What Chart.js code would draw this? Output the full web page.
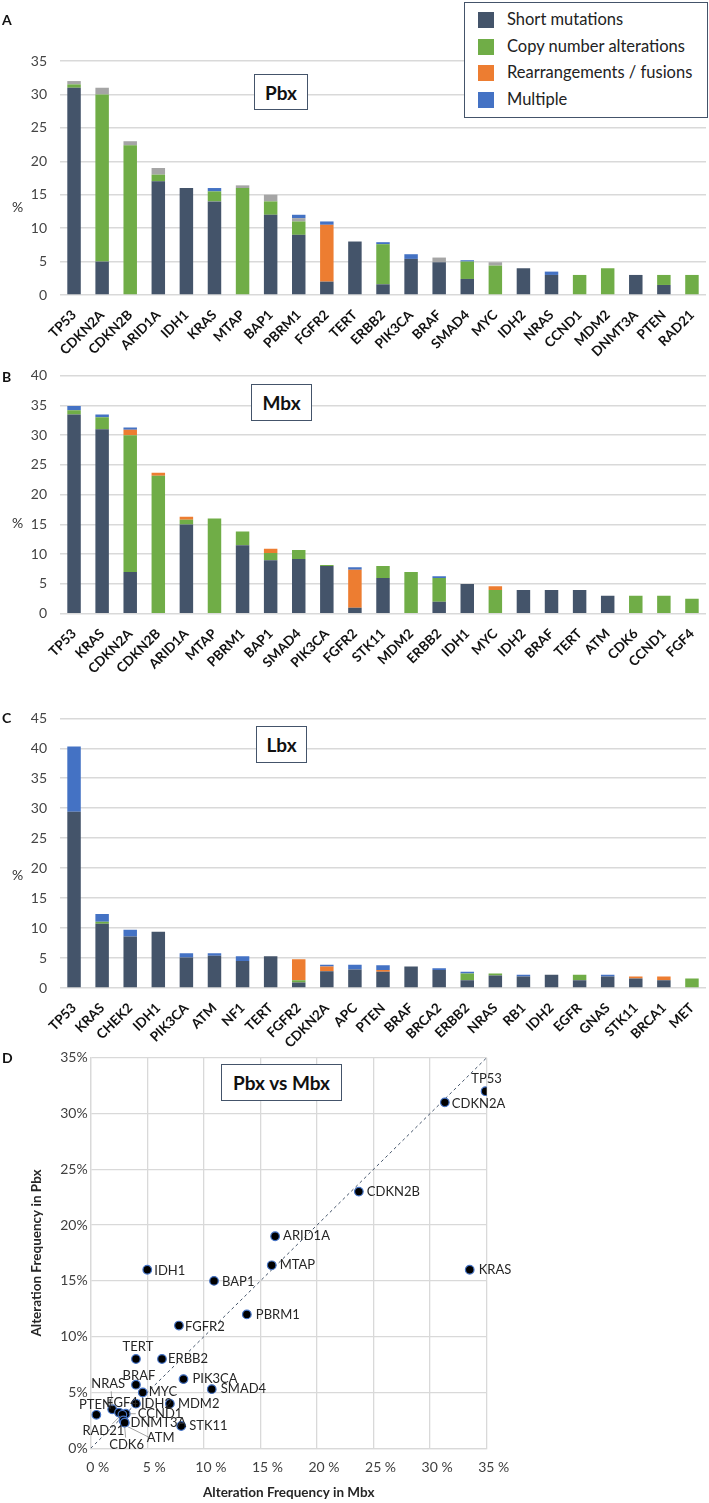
<!DOCTYPE html>
<html>
<head>
<meta charset="utf-8">
<script src="https://cdn.jsdelivr.net/npm/chart.js@4.4.1/dist/chart.umd.min.js"></script>
<style>
  body { margin: 0; background: #fff; font-family: Lato, sans-serif; }
  #page { position: relative; width: 709px; height: 1503px; overflow: hidden; }
  canvas { position: absolute; left: 0; }
  .txt { position: absolute; line-height: 1; white-space: nowrap; color: #111; }
  .box { position: absolute; box-sizing: border-box; border: 1.5px solid #44546a; background: #fff;
         display: flex; align-items: center; justify-content: center; font-weight: bold; font-size: 19px; color: #111; }
  .sw { position: absolute; width: 16px; height: 16px; }
</style>
</head>
<body>
<div id="page">
  <canvas id="chartA" width="709" height="365" style="top:0px"></canvas>
  <canvas id="chartB" width="709" height="345" style="top:340px"></canvas>
  <canvas id="chartC" width="709" height="400" style="top:670px"></canvas>
  <canvas id="chartD" width="709" height="458" style="top:1045px"></canvas>

  <div class="txt" style="left:2px;top:13px;font-weight:bold;font-size:14px">A</div>
  <div class="txt" style="left:2px;top:370px;font-weight:bold;font-size:14px">B</div>
  <div class="txt" style="left:2px;top:711px;font-weight:bold;font-size:14px">C</div>
  <div class="txt" style="left:2px;top:1051px;font-weight:bold;font-size:14px">D</div>

  <div class="txt" style="left:12px;top:200px;font-size:14px;color:#333">%</div>
  <div class="txt" style="left:12px;top:516px;font-size:14px;color:#333">%</div>
  <div class="txt" style="left:12px;top:868px;font-size:14px;color:#333">%</div>

  <div class="box" style="left:254px;top:74px;width:54px;height:36px">Pbx</div>
  <div class="box" style="left:251px;top:384px;width:61px;height:37px">Mbx</div>
  <div class="box" style="left:256px;top:726px;width:51px;height:37px">Lbx</div>
  <div class="box" style="left:221px;top:1064px;width:121px;height:37px">Pbx vs Mbx</div>

  <div id="legend"></div>
</div>

<script>
// Series shared by the three bar panels
const seriesNames = ['Short mutations', 'Copy number alterations', 'Rearrangements / fusions', 'Multiple'];
const seriesColors = ['#44546a', '#70ad47', '#ed7d31', '#4472c4'];
const otherColor = '#a5a5a5'; // unlabelled grey cap in Pbx

// Panel A - Pbx
const genesA = ['TP53', 'CDKN2A', 'CDKN2B', 'ARID1A', 'IDH1', 'KRAS', 'MTAP', 'BAP1', 'PBRM1', 'FGFR2', 'TERT',
  'ERBB2', 'PIK3CA', 'BRAF', 'SMAD4', 'MYC', 'IDH2', 'NRAS', 'CCND1', 'MDM2', 'DNMT3A', 'PTEN', 'RAD21'];
const shortA = [31, 5, 0, 17, 16, 14, 0, 12, 9, 2, 8, 1.6, 5.4, 4.9, 2.4, 0, 4, 3, 0, 0, 3, 1.5, 0];
const cnaA = [0.5, 25, 22.4, 1, 0, 1.5, 16, 2, 2, 0, 0, 6, 0, 0, 2.6, 4.4, 0, 0, 3, 4, 0, 1.5, 3];
const rearrA = [0, 0, 0, 0, 0, 0, 0, 0, 0, 8.5, 0, 0, 0, 0, 0, 0, 0, 0, 0, 0, 0, 0, 0];
const otherA = [0.5, 1, 0.6, 1, 0, 0, 0.4, 1, 0.5, 0, 0, 0, 0, 0.7, 0, 0.5, 0, 0, 0, 0, 0, 0, 0];
const multiA = [0, 0, 0, 0, 0, 0.5, 0, 0, 0.5, 0.5, 0, 0.3, 0.7, 0, 0.2, 0, 0, 0.5, 0, 0, 0, 0, 0];

// Panel B - Mbx
const genesB = ['TP53', 'KRAS', 'CDKN2A', 'CDKN2B', 'ARID1A', 'MTAP', 'PBRM1', 'BAP1', 'SMAD4', 'PIK3CA', 'FGFR2',
  'STK11', 'MDM2', 'ERBB2', 'IDH1', 'MYC', 'IDH2', 'BRAF', 'TERT', 'ATM', 'CDK6', 'CCND1', 'FGF4'];
const shortB = [33.5, 31, 7, 0, 15, 0, 11.5, 9, 9.2, 8, 1, 6, 0, 2, 5, 0, 4, 4, 4, 3, 0, 0, 0];
const cnaB = [0.7, 2, 23, 23.2, 0.8, 16, 2.3, 1.2, 1.5, 0.2, 0, 2, 7, 4, 0, 4, 0, 0, 0, 0, 3, 3, 2.5];
const rearrB = [0, 0, 0.9, 0.5, 0.5, 0, 0, 0.7, 0, 0, 6.4, 0, 0, 0, 0, 0.6, 0, 0, 0, 0, 0, 0, 0];
const multiB = [0.7, 0.5, 0.4, 0, 0, 0, 0, 0, 0, 0, 0.4, 0, 0, 0.3, 0, 0, 0, 0, 0, 0, 0, 0, 0];

// Panel C - Lbx
const genesC = ['TP53', 'KRAS', 'CHEK2', 'IDH1', 'PIK3CA', 'ATM', 'NF1', 'TERT', 'FGFR2', 'CDKN2A', 'APC', 'PTEN',
  'BRAF', 'BRCA2', 'ERBB2', 'NRAS', 'RB1', 'IDH2', 'EGFR', 'GNAS', 'STK11', 'BRCA1', 'MET'];
const shortC = [29.4, 10.7, 8.6, 9.4, 5.1, 5.4, 4.5, 5.3, 0.9, 2.8, 3.1, 2.7, 3.6, 3.0, 1.3, 2.1, 1.9, 2.2, 1.3, 1.9, 1.6, 1.3, 0];
const cnaC = [0, 0.35, 0, 0, 0, 0, 0, 0, 0.4, 0, 0, 0, 0, 0, 1.1, 0.3, 0, 0, 0.9, 0, 0, 0, 1.6];
const rearrC = [0, 0, 0, 0, 0, 0, 0, 0, 3.5, 0.8, 0, 0.3, 0, 0, 0, 0, 0, 0, 0, 0, 0.3, 0.6, 0];
const multiC = [10.9, 1.3, 1.1, 0, 0.7, 0.4, 0.8, 0, 0, 0.3, 0.8, 0.8, 0, 0.3, 0.3, 0, 0.3, 0, 0, 0.3, 0, 0, 0];

// Panel D - Pbx vs Mbx (x = Mbx %, y = Pbx %)
const scatterGenes = ['TP53', 'CDKN2A', 'CDKN2B', 'KRAS', 'ARID1A', 'MTAP', 'IDH1', 'BAP1', 'PBRM1', 'FGFR2', 'TERT',
  'ERBB2', 'PIK3CA', 'SMAD4', 'BRAF', 'MYC', 'IDH2', 'MDM2', 'STK11', 'NRAS', 'PTEN', 'FGF4', 'CCND1', 'RAD21',
  'DNMT3A', 'CDK6', 'ATM'];
const scatterMbx = [34.9, 31.3, 23.7, 33.5, 16.3, 16.0, 5.0, 10.9, 13.8, 7.8, 4.0, 6.3, 8.2, 10.7, 4.0, 4.6, 4.0, 7.0,
  8.0, 1.9, 0.5, 2.5, 3.1, 2.8, 2.9, 3.0, 3.0];
const scatterPbx = [32.0, 31.0, 23.0, 16.0, 19.0, 16.4, 16.0, 15.0, 12.0, 11.0, 8.0, 8.0, 6.2, 5.3, 5.7, 5.0, 4.0, 4.0,
  2.0, 3.5, 3.0, 3.2, 3.1, 3.0, 2.5, 2.3, 2.3];
const diagX = [0, 35];
const diagY = [0, 35];

// Label placement in panel D: offset from the point in px, alignment, optional leader line
const labelPlace = {
  TP53: { dx: 1, dy: -12, align: 'center' },
  CDKN2A: { dx: 7, dy: 1 }, CDKN2B: { dx: 8, dy: 0 }, KRAS: { dx: 9, dy: 0 },
  ARID1A: { dx: 8, dy: 0 }, MTAP: { dx: 8, dy: 0 }, IDH1: { dx: 7, dy: 1 }, BAP1: { dx: 8, dy: 1 },
  PBRM1: { dx: 9, dy: 0 }, FGFR2: { dx: 6, dy: 1 }, TERT: { dx: 2, dy: -12, align: 'center' },
  ERBB2: { dx: 6, dy: 0 }, PIK3CA: { dx: 9, dy: 0 }, SMAD4: { dx: 9, dy: 0 },
  BRAF: { dx: 3, dy: -9, align: 'center' }, MYC: { dx: 6, dy: -1 }, IDH2: { dx: 5, dy: 0 },
  MDM2: { dx: 8, dy: 0 }, STK11: { dx: 8, dy: 0 },
  NRAS: { dx: -4, dy: -25, align: 'center', leader: [-1, -18, 0, -3] },
  PTEN: { dx: -1, dy: -10, align: 'center' },
  FGF4: { dx: 3, dy: -10, align: 'center' },
  CCND1: { dx: 12, dy: 0, leader: [3, 0, 10, 0] },
  RAD21: { dx: -19, dy: 16, align: 'center', leader: [-10, 9, -2, 1] },
  DNMT3A: { dx: 7, dy: 2 },
  CDK6: { dx: 2, dy: 22, align: 'center', leader: [0, 4, 1, 15] },
  ATM: { dx: 36, dy: 15, align: 'center', leader: [3, 4, 25, 15] }
};

// Build the legend from the named series
const legendEl = document.getElementById('legend');
let legendHtml = '<div class="box" style="left:464px;top:2px;width:244px;height:116px"></div>';
seriesNames.forEach((name, i) => {
  const cy = 20 + i * 26.7;
  legendHtml += `<div class="sw" style="left:478px;top:${cy - 8}px;background:${seriesColors[i]}"></div>`;
  legendHtml += `<div class="txt" style="left:507px;top:${cy - 9}px;font-size:16.5px;color:#222">${name}</div>`;
});
legendEl.innerHTML = legendHtml;

const tickFont = { family: 'Lato', size: 14 };
const geneFont = { family: 'Lato', size: 13.5, weight: 'bold' };

// Stacked bar panel; frame holds the plot-area placement inside the canvas
const makeBars = (id, genes, parts, yMax, frame) => {
  new Chart(document.getElementById(id), {
    type: 'bar',
    data: {
      labels: genes,
      datasets: parts.map(p => ({
        label: p.name,
        data: p.values,
        backgroundColor: p.color,
        borderWidth: 0,
        barPercentage: 0.48,
        categoryPercentage: 1
      }))
    },
    options: {
      responsive: false,
      animation: false,
      layout: { padding: { top: frame.top, right: frame.right, left: 0, bottom: 0 } },
      plugins: { legend: { display: false }, tooltip: { enabled: false } },
      scales: {
        x: {
          stacked: true,
          grid: { display: false },
          border: { display: false },
          ticks: { autoSkip: false, maxRotation: 45, minRotation: 45, padding: 4, color: '#111', font: geneFont },
          afterFit: (s) => { s.height = frame.xHeight; }
        },
        y: {
          stacked: true,
          min: 0,
          max: yMax,
          ticks: { stepSize: 5, padding: 13, color: '#444', font: tickFont },
          grid: { color: '#d9d9d9', lineWidth: 1.5, drawTicks: false },
          border: { display: false },
          afterFit: (s) => { s.width = 60; }
        }
      }
    }
  });
};

makeBars('chartA', genesA, [
  { name: seriesNames[0], values: shortA, color: seriesColors[0] },
  { name: seriesNames[1], values: cnaA, color: seriesColors[1] },
  { name: seriesNames[2], values: rearrA, color: seriesColors[2] },
  { name: 'Other', values: otherA, color: otherColor },
  { name: seriesNames[3], values: multiA, color: seriesColors[3] }
], 35, { top: 61, right: 3, xHeight: 70 });

makeBars('chartB', genesB, [
  { name: seriesNames[0], values: shortB, color: seriesColors[0] },
  { name: seriesNames[1], values: cnaB, color: seriesColors[1] },
  { name: seriesNames[2], values: rearrB, color: seriesColors[2] },
  { name: seriesNames[3], values: multiB, color: seriesColors[3] }
], 40, { top: 35.7, right: 3, xHeight: 71.3 });

makeBars('chartC', genesC, [
  { name: seriesNames[0], values: shortC, color: seriesColors[0] },
  { name: seriesNames[1], values: cnaC, color: seriesColors[1] },
  { name: seriesNames[2], values: rearrC, color: seriesColors[2] },
  { name: seriesNames[3], values: multiC, color: seriesColors[3] }
], 45, { top: 48.3, right: 3, xHeight: 82 });

// Gene names beside the scatter points
const pointLabels = {
  id: 'pointLabels',
  afterDatasetsDraw(chart) {
    const ctx = chart.ctx;
    const meta = chart.getDatasetMeta(0);
    ctx.save();
    ctx.font = '13px "Liberation Sans Narrow", Lato, sans-serif';
    ctx.fillStyle = '#262626';
    ctx.strokeStyle = '#8c8c8c';
    ctx.lineWidth = 0.8;
    ctx.textBaseline = 'middle';
    meta.data.forEach((pt, i) => {
      const name = scatterGenes[i];
      const p = labelPlace[name] || { dx: 7, dy: 0 };
      if (p.leader) {
        ctx.beginPath();
        ctx.moveTo(pt.x + p.leader[0], pt.y + p.leader[1]);
        ctx.lineTo(pt.x + p.leader[2], pt.y + p.leader[3]);
        ctx.stroke();
      }
      ctx.textAlign = p.align || 'left';
      ctx.fillText(name, pt.x + p.dx, pt.y + p.dy);
    });
    ctx.restore();
  }
};

const dFont = { family: 'Lato', size: 14 };
const dTitleFont = { family: 'Lato', size: 13.5, weight: 'bold' };

new Chart(document.getElementById('chartD'), {
  type: 'scatter',
  data: {
    datasets: [
      {
        data: scatterMbx.map((x, i) => ({ x: x, y: scatterPbx[i] })),
        backgroundColor: '#000',
        borderColor: '#4472c4',
        borderWidth: 1.2,
        pointRadius: 4.3
      },
      {
        type: 'line',
        data: diagX.map((x, i) => ({ x: x, y: diagY[i] })),
        borderColor: '#44546a',
        borderWidth: 1,
        borderDash: [3, 3],
        pointRadius: 0,
        showLine: true,
        fill: false
      }
    ]
  },
  options: {
    responsive: false,
    animation: false,
    layout: { padding: { top: 12.7, right: 222.3, left: 0, bottom: 0 } },
    plugins: { legend: { display: false }, tooltip: { enabled: false } },
    scales: {
      x: {
        type: 'linear', min: 0, max: 35,
        ticks: { stepSize: 5, callback: (v) => v + ' %', labelOffset: 7, padding: 11, color: '#404040', font: dFont },
        grid: { color: '#d9d9d9', lineWidth: 1.3, drawTicks: false },
        border: { color: '#d9d9d9', width: 1.3 },
        title: { display: true, text: 'Alteration Frequency in Mbx', color: '#262626', font: dTitleFont, padding: { top: 0, bottom: 2 } },
        afterFit: (s) => { s.height = 54.7; }
      },
      y: {
        type: 'linear', min: 0, max: 35,
        ticks: { stepSize: 5, callback: (v) => v + '%', padding: 3, color: '#404040', font: dFont },
        grid: { color: '#d9d9d9', lineWidth: 1.3, drawTicks: false },
        border: { color: '#d9d9d9', width: 1.3 },
        title: { display: true, text: 'Alteration Frequency in Pbx', color: '#262626', font: dTitleFont, padding: { top: 29, bottom: 0 } },
        afterFit: (s) => { s.width = 90.7; }
      }
    }
  },
  plugins: [pointLabels]
});
</script>
</body>
</html>
